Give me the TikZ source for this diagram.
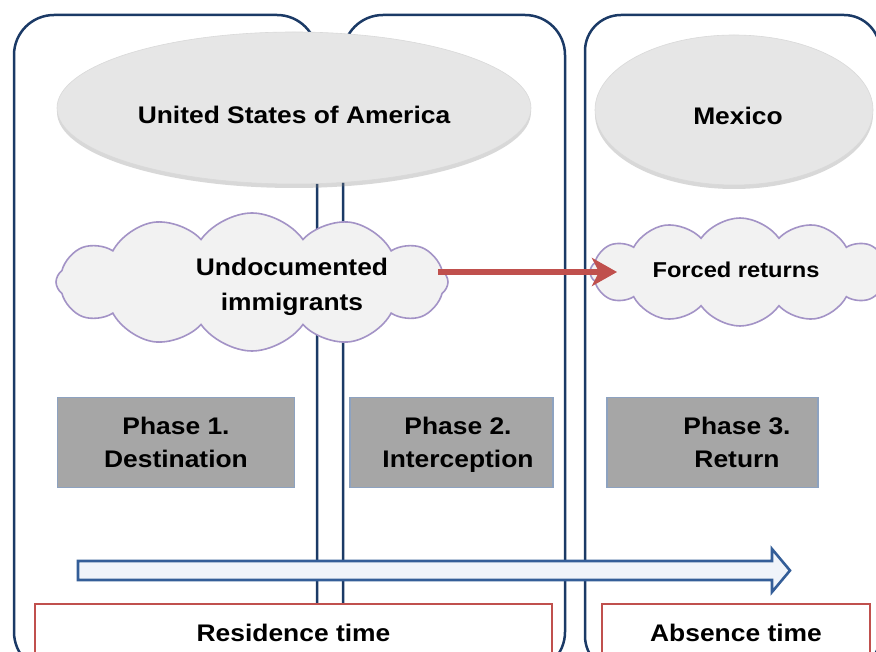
\documentclass[tikz,border=0pt]{standalone}
\usepackage{fontspec}
\setmainfont{Liberation Sans}[FakeStretch=1.1]
\usetikzlibrary{shapes.symbols,shapes.geometric,shadows,arrows.meta}
\definecolor{navy}{RGB}{27,58,102}
\definecolor{ellgray}{RGB}{230,230,230}
\definecolor{cloudfill}{RGB}{242,242,242}
\definecolor{cloudline}{RGB}{163,147,198}
\definecolor{phasegray}{RGB}{166,166,166}
\definecolor{phaseline}{RGB}{141,162,192}
\definecolor{redc}{RGB}{192,80,77}
\definecolor{tlline}{RGB}{52,94,152}
\definecolor{tlfill}{RGB}{240,244,250}
\newcommand{\pstr}{\vphantom{Pg}}
\begin{document}
\begin{tikzpicture}[x=1pt,y=-1pt,
  panel/.style={draw=navy, line width=2.5pt, rounded corners=40pt},
  country/.style={ellipse, fill=ellgray, draw=gray!30, line width=0.6pt, inner sep=0pt,
    drop shadow={opacity=0.3, shadow xshift=0pt, shadow yshift=-4pt}},
  cloudbox/.style={cloud, cloud puffs=12, cloud puff arc=110, fill=cloudfill, draw=cloudline, line width=1.6pt, inner sep=0pt, align=center},
  phasebox/.style={rectangle, fill=phasegray, draw=phaseline, line width=1.2pt, inner sep=0pt},
  phasetext/.style={align=center, inner sep=0pt, font=\fontsize{24}{33}\selectfont\bfseries},
  timebox/.style={rectangle, fill=white, draw=redc, line width=2.5pt, inner sep=0pt,
    font=\fontsize{24}{28}\selectfont\bfseries},
  redarrow/.style={draw=redc, line width=6pt, -{Stealth[length=25pt,width=28pt,inset=7pt]}},
  tline/.style={draw=tlline, fill=tlfill, line width=2.6pt, line join=miter}
]
\useasboundingbox (0,0) rectangle (876,652);
\clip (0,0) rectangle (876,652);
\fill[white] (0,0) rectangle (876,652);

% panels
\draw[panel] (14,15) rectangle (317,672);
\draw[panel] (343,15) rectangle (565,672);
\draw[panel, rounded corners=36pt] (585,15) rectangle (880,672);

% country ellipses
\node[country, minimum width=474pt, minimum height=152pt] (usa) at (294,108) {};
\node[font=\fontsize{24}{28}\selectfont\bfseries] (usat) at (294,115) {United States of America};
\node[country, minimum width=278pt, minimum height=150pt] (mex) at (734,110) {};
\node[font=\fontsize{24}{28}\selectfont\bfseries] (mext) at (738,116) {Mexico};

% clouds
\node[cloudbox, aspect=2.9, minimum width=392pt, minimum height=138pt] (imm) at (252,282) {};
\node[align=center, font=\fontsize{24}{35}\selectfont\bfseries] (immt) at (292,287) {Undocumented\\immigrants};
\node[cloudbox, aspect=2.8, minimum width=300pt, minimum height=108pt] (fr) at (740,272) {};
\node[font=\fontsize{21.5}{26}\selectfont\bfseries] (frt) at (736,270) {Forced returns};

% red arrow
\coordinate (rs) at (438,272);
\coordinate (re) at (617,272);
\draw[redarrow] (rs) -- (re);

% phase boxes
\node[phasebox, minimum width=237pt, minimum height=90pt] (p1) at (176,442.5) {};
\node[phasetext] (p1t) at (176,445) {\pstr Phase 1.\\\pstr Destination};
\node[phasebox, minimum width=203pt, minimum height=90pt] (p2) at (451.5,442.5) {};
\node[phasetext] (p2t) at (458,445) {\pstr Phase 2.\\\pstr Interception};
\node[phasebox, minimum width=211pt, minimum height=90pt] (p3) at (712.5,442.5) {};
\node[phasetext] (p3t) at (737,445) {\pstr Phase 3.\\\pstr Return};

% timeline arrow
\draw[tline] (78,561) -- (772,561) -- (772,549) -- (790,570.5) -- (772,592) -- (772,580) -- (78,580) -- cycle;

% bottom boxes
\node[timebox, minimum width=517pt, minimum height=58pt] (res) at (293.5,633) {Residence time};
\node[timebox, minimum width=268pt, minimum height=58pt] (abs) at (736,633) {Absence time};
\end{tikzpicture}
\end{document}
